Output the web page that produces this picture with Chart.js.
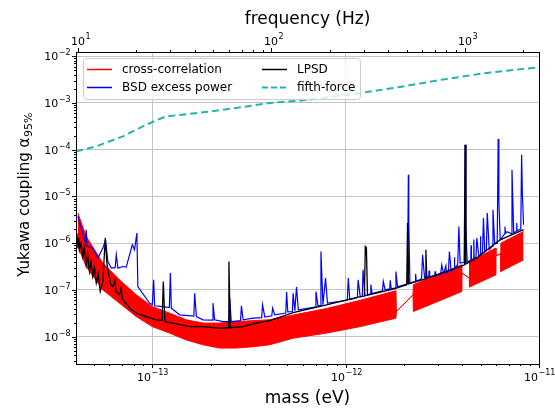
<!DOCTYPE html>
<html>
<head>
<meta charset="utf-8">
<script src="https://cdn.jsdelivr.net/npm/chart.js@4.4.0/dist/chart.umd.min.js"></script>
<style>
  html, body { margin: 0; padding: 0; background: #fff; }
  #wrap { width: 555px; height: 410px; }
</style>
</head>
<body>
<div id="wrap"><canvas id="chart" width="555" height="410"></canvas></div>
<script>
// cross-correlation: dense band, kept as upper / lower envelope (gaps collapse to a thin line)
const ccMass  = [4.12e-14, 4.55e-14, 5.55e-14, 6.77e-14, 8.26e-14, 1.0e-13, 1.23e-13, 1.50e-13, 1.83e-13, 2.23e-13, 2.72e-13, 3.32e-13, 4.05e-13, 5.35e-13, 7.97e-13, 1.19e-12, 1.82e-12, 1.83e-12, 2.23e-12, 2.24e-12, 3.99e-12, 4.0e-12, 4.36e-12, 4.37e-12, 5.98e-12, 5.99e-12, 6.34e-12, 6.35e-12, 8.32e-12];
const ccUpper = [4.41e-6, 1.39e-6, 3.75e-7, 1.64e-7, 7.85e-8, 4.41e-8, 3.18e-8, 2.29e-8, 1.95e-8, 1.95e-8, 2.1e-8, 2.2e-8, 2.3e-8, 2.9e-8, 4.0e-8, 6.0e-8, 9.6e-8, 3.45e-8, 7.85e-8, 1.29e-7, 3.45e-7, 2.29e-7, 1.79e-7, 4.06e-7, 7.85e-7, 5.37e-7, 5.93e-7, 1.0e-6, 1.78e-6];
const ccLower = [8.5e-7, 3.17e-7, 1.0e-7, 5.2e-8, 2.69e-8, 1.64e-8, 1.19e-8, 8.5e-9, 6.7e-9, 5.7e-9, 5.7e-9, 6.1e-9, 6.7e-9, 9.3e-9, 1.19e-8, 1.64e-8, 2.49e-8, 3.45e-8, 7.85e-8, 3.45e-8, 9.24e-8, 2.29e-7, 1.79e-7, 1.15e-7, 2.1e-7, 5.37e-7, 5.93e-7, 2.48e-7, 4.4e-7];

// BSD excess power
const bsdMass = [4.12e-14, 4.37e-14, 4.51e-14, 4.55e-14, 4.61e-14, 4.92e-14, 5.23e-14, 5.55e-14, 5.73e-14, 5.89e-14,
  6.13e-14, 6.43e-14, 6.51e-14, 6.64e-14, 7.05e-14, 7.33e-14, 7.88e-14, 8.09e-14, 8.32e-14, 8.42e-14,
  8.77e-14, 9.68e-14, 1.0e-13, 1.016e-13, 1.028e-13, 1.135e-13, 1.225e-13, 1.24e-13, 1.254e-13, 1.385e-13,
  1.64e-13, 1.656e-13, 1.69e-13, 1.83e-13, 2.04e-13, 2.06e-13, 2.1e-13, 2.32e-13, 2.49e-13, 2.515e-13,
  2.56e-13, 2.86e-13, 2.89e-13, 2.95e-13, 3.32e-13, 3.68e-13, 3.715e-13, 3.82e-13, 4.15e-13, 4.19e-13,
  4.3e-13, 4.9e-13, 4.95e-13, 5.02e-13, 5.3e-13, 5.35e-13, 5.46e-13, 5.57e-13, 5.69e-13, 6.95e-13,
  7.02e-13, 7.19e-13, 7.37e-13, 7.45e-13, 7.63e-13, 7.87e-13, 8.05e-13, 1.02e-12, 1.032e-12, 1.05e-12,
  1.15e-12, 1.16e-12, 1.19e-12, 1.22e-12, 1.23e-12, 1.26e-12,
  1.34e-12, 1.35e-12, 1.37e-12, 1.55e-12, 1.566e-12, 1.6e-12, 1.69e-12, 1.7e-12, 1.72e-12, 1.8e-12,
  1.82e-12, 1.855e-12, 2.09e-12, 2.11e-12, 2.12e-12, 2.15e-12, 2.29e-12, 2.3e-12, 2.32e-12, 2.47e-12,
  2.5e-12, 2.56e-12, 2.69e-12, 2.7e-12, 2.72e-12, 2.89e-12, 2.9e-12, 2.92e-12, 3.1e-12, 3.14e-12,
  3.21e-12, 3.3e-12, 3.32e-12, 3.4e-12, 3.44e-12, 3.51e-12, 3.64e-12, 3.65e-12, 3.67e-12, 3.8e-12,
  3.85e-12, 3.91e-12, 4.1e-12, 4.15e-12, 4.18e-12, 4.25e-12, 4.44e-12, 4.45e-12, 4.47e-12, 4.59e-12,
  4.6e-12, 4.62e-12, 4.72e-12, 4.77e-12, 4.88e-12, 4.97e-12, 4.98e-12, 5.0e-12, 5.1e-12, 5.16e-12,
  5.24e-12, 5.34e-12, 5.4e-12, 5.53e-12, 5.72e-12, 5.78e-12, 5.9e-12, 6.08e-12, 6.15e-12, 6.2e-12,
  6.3e-12, 6.65e-12, 6.67e-12, 6.7e-12, 6.83e-12, 7.18e-12, 7.25e-12, 7.4e-12, 7.65e-12, 7.67e-12,
  7.7e-12, 8.05e-12, 8.13e-12, 8.2e-12, 8.32e-12];
const bsdAlpha = [3.73e-6, 1.64e-6, 1.0e-6, 1.94e-6, 8.5e-7, 7.85e-7, 4.8e-7, 7.85e-7, 1.18e-6, 4.06e-7,
  2.93e-7, 3.0e-7, 5.65e-7, 2.93e-7, 3.17e-7, 3.08e-7, 9.25e-7, 7.22e-7, 1.64e-6, 1.18e-7,
  9.24e-8, 5.21e-8, 4.8e-8, 1.64e-7, 4.57e-8, 4.41e-8, 4.2e-8, 2.29e-7, 4.07e-8, 2.93e-8,
  2.75e-8, 8.5e-8, 2.69e-8, 2.29e-8, 2.25e-8, 5.21e-8, 2.29e-8, 2.1e-8, 2.1e-8, 6.67e-8,
  2.1e-8, 2.2e-8, 4.57e-8, 2.29e-8, 2.49e-8, 2.55e-8, 4.8e-8, 2.62e-8, 2.8e-8, 4.07e-8,
  2.93e-8, 3.2e-8, 8.97e-8, 3.4e-8, 3.45e-8, 8.5e-8, 3.57e-8, 1.15e-7, 3.75e-8, 4.3e-8,
  9.24e-8, 4.57e-8, 4.6e-8, 6.64e-7, 4.8e-8, 1.79e-7, 5.21e-8, 6.0e-8, 1.79e-7, 6.14e-8,
  6.9e-8, 1.64e-7, 7.12e-8, 7.3e-8, 2.69e-7, 7.48e-8,
  8.2e-8, 1.3e-7, 8.3e-8, 9.5e-8, 1.51e-7, 1.0e-7, 1.05e-7, 1.6e-7, 1.06e-7, 1.1e-7,
  2.48e-7, 1.16e-7, 1.35e-7, 2.92e-5, 3.0e-6, 1.42e-7, 1.5e-7, 2.2e-7, 1.52e-7, 1.75e-7,
  5.65e-7, 1.82e-7, 1.9e-7, 2.6e-7, 1.92e-7, 2.0e-7, 2.5e-7, 2.02e-7, 2.15e-7, 3.45e-7,
  2.21e-7, 3.3e-7, 2.3e-7, 2.45e-7, 6.64e-7, 2.57e-7, 2.8e-7, 5.0e-7, 2.85e-7, 3.5e-7,
  2.28e-6, 3.75e-7, 3.9e-7, 1.28e-4, 2.5e-6, 4.0e-7, 4.3e-7, 9.0e-7, 4.4e-7, 4.7e-7,
  1.2e-6, 4.8e-7, 5.0e-7, 1.29e-6, 5.37e-7, 5.6e-7, 1.4e-6, 5.8e-7, 6.0e-7, 3.45e-6,
  6.55e-7, 7.0e-7, 4.41e-6, 7.22e-7, 8.5e-7, 5.19e-6, 9.7e-7, 1.0e-6, 1.69e-4, 8.0e-6,
  1.18e-6, 1.6e-6, 2.28e-6, 1.62e-6, 1.75e-6, 1.6e-6, 3.73e-5, 1.67e-6, 1.8e-6, 2.7e-6,
  1.85e-6, 2.0e-6, 7.82e-5, 1.2e-5, 2.48e-6];

// LPSD
const lpsdMass = [4.07e-14, 4.13e-14, 4.17e-14, 4.2e-14, 4.28e-14, 4.37e-14, 4.45e-14, 4.55e-14, 4.63e-14, 4.73e-14,
  4.82e-14, 4.92e-14, 5.02e-14, 5.13e-14, 5.25e-14, 5.38e-14, 5.55e-14, 5.71e-14, 5.82e-14, 5.96e-14,
  6.1e-14, 6.25e-14, 6.4e-14, 6.5e-14, 6.77e-14, 6.9e-14, 7.0e-14, 7.18e-14, 7.63e-14, 8.26e-14,
  9.31e-14, 1.049e-13, 1.124e-13, 1.14e-13, 1.162e-13, 1.331e-13, 1.56e-13, 1.83e-13, 2.23e-13, 2.465e-13,
  2.49e-13, 2.53e-13, 2.95e-13, 3.46e-13, 4.05e-13, 5.35e-13, 7.97e-13, 1.19e-12, 1.25e-12, 1.264e-12,
  1.28e-12, 1.297e-12, 1.76e-12, 2.07e-12, 2.09e-12, 2.12e-12, 2.58e-12, 2.6e-12, 2.63e-12, 3.91e-12,
  4.12e-12, 4.15e-12, 4.19e-12, 4.77e-12, 5.82e-12, 6.3e-12, 8.32e-12];
const lpsdAlpha = [1.64e-6, 8.0e-7, 1.3e-6, 7.22e-7, 1.0e-6, 5.19e-7, 8.0e-7, 3.45e-7, 5.5e-7, 2.48e-7,
  4.0e-7, 1.94e-7, 3.0e-7, 1.4e-7, 2.2e-7, 9.24e-8, 1.51e-7, 1.29e-6, 3.75e-7, 2.1e-7,
  1.3e-7, 1.18e-7, 1.6e-7, 9.0e-8, 7.85e-8, 1.1e-7, 6.5e-8, 5.65e-8, 4.07e-8, 3.18e-8,
  2.69e-8, 2.29e-8, 2.25e-8, 1.51e-7, 2.1e-8, 1.88e-8, 1.64e-8, 1.64e-8, 1.52e-8, 1.55e-8,
  4.06e-7, 1.55e-8, 1.64e-8, 1.95e-8, 2.21e-8, 3.28e-8, 4.8e-8, 7.22e-8, 7.4e-8, 8.5e-7,
  8.0e-7, 7.7e-8, 1.04e-7, 1.29e-7, 2.69e-6, 1.35e-7, 1.73e-7, 7.22e-7, 1.79e-7, 3.17e-7,
  3.45e-7, 1.28e-4, 3.6e-7, 4.8e-7, 9.25e-7, 1.18e-6, 1.94e-6];

// fifth-force
const ffMass  = [4.04e-14, 5.13e-14, 7.05e-14, 8.94e-14, 1.09e-13, 1.18e-13, 1.83e-13, 2.72e-13, 4.05e-13, 5.8e-13, 1.05e-12, 1.91e-12, 3.08e-12, 5.16e-12, 9.95e-12];
const ffAlpha = [9.2e-5, 1.18e-4, 1.93e-4, 3.16e-4, 4.54e-4, 5.16e-4, 6.3e-4, 7.8e-4, 1.0e-3, 1.12e-3, 1.5e-3, 2.2e-3, 3.1e-3, 4.3e-3, 5.8e-3];

// axis ranges
const massRange = [4.03e-14, 1e-11];
const freqRange = [9.75, 2418];
const alphaRange = [2.6e-9, 1.23e-2];

const legendItems = [
  { label: 'cross-correlation', color: '#ff0000', dash: [], width: 1.5 },
  { label: 'LPSD', color: '#000000', dash: [], width: 1.5 },
  { label: 'BSD excess power', color: '#0000ff', dash: [], width: 1.5 },
  { label: 'fifth-force', color: '#22b5aa', dash: [6, 3], width: 2 }
];

const FONT = '"DejaVu Sans", "Liberation Sans", sans-serif';

function pts(xs, ys) {
  return xs.map((x, i) => ({ x: x, y: ys[i] }));
}

// decade + 2..9 minor ticks
function logTicks(scale) {
  const ticks = [];
  const lo = Math.floor(Math.log10(scale.min));
  const hi = Math.ceil(Math.log10(scale.max));
  for (let e = lo; e <= hi; e++) {
    for (let k = 1; k < 10; k++) {
      const v = parseFloat((k * Math.pow(10, e)).toPrecision(6));
      if (v >= scale.min * 0.9999 && v <= scale.max * 1.0001) ticks.push({ value: v, major: k === 1 });
    }
  }
  scale.ticks = ticks;
}

const gridColor = ctx => (ctx.tick && ctx.tick.major) ? '#c4c4c4' : 'rgba(0,0,0,0)';

// "10" with a raised exponent, like matplotlib's mathtext labels
function drawPow(ctx, v, x, y, align) {
  const e = Math.round(Math.log10(v));
  const exp = String(e).replace('-', '\u2212');
  ctx.font = '11px ' + FONT;
  const w1 = ctx.measureText('10').width;
  ctx.font = '8px ' + FONT;
  const w2 = ctx.measureText(exp).width;
  let x0 = align === 'right' ? x - w1 - w2 : x - (w1 + w2) / 2;
  ctx.textAlign = 'left';
  ctx.textBaseline = 'middle';
  ctx.font = '11px ' + FONT;
  ctx.fillText('10', x0, y);
  ctx.font = '8px ' + FONT;
  ctx.fillText(exp, x0 + w1 + 0.5, y - 5);
}

// ticks, labels, frame, legend and axis titles
const decorPlugin = {
  id: 'decor',
  afterDraw(chart) {
    const ctx = chart.ctx;
    const a = chart.chartArea;
    ctx.save();

    ctx.strokeStyle = '#000';
    ctx.fillStyle = '#000';
    ctx.lineWidth = 1;
    ['x', 'x2', 'y'].forEach(id => {
      const s = chart.scales[id];
      s.ticks.forEach(t => {
        const p = Math.round(s.getPixelForValue(t.value)) + 0.5;
        const len = t.major ? 4 : 2;
        ctx.beginPath();
        if (id === 'x') { ctx.moveTo(p, a.bottom); ctx.lineTo(p, a.bottom + len); }
        else if (id === 'x2') { ctx.moveTo(p, a.top); ctx.lineTo(p, a.top - len); }
        else { ctx.moveTo(a.left, p); ctx.lineTo(a.left - len, p); }
        ctx.stroke();
        if (t.major) {
          if (id === 'x') drawPow(ctx, t.value, p, a.bottom + 14, 'center');
          else if (id === 'x2') drawPow(ctx, t.value, p + 2, a.top - 10, 'center');
          else drawPow(ctx, t.value, a.left - 6, p + 1, 'right');
        }
      });
    });

    // frame
    ctx.strokeRect(Math.round(a.left) + 0.5, Math.round(a.top) + 0.5,
      Math.round(a.right - a.left), Math.round(a.bottom - a.top));

    // legend
    const bx = 83, by = 58, bw = 277, bh = 41;
    ctx.fillStyle = 'rgba(255,255,255,0.8)';
    ctx.strokeStyle = '#cccccc';
    ctx.beginPath();
    ctx.roundRect(bx + 0.5, by + 0.5, bw, bh, 3);
    ctx.fill();
    ctx.stroke();
    ctx.font = '12px ' + FONT;
    ctx.textBaseline = 'middle';
    ctx.textAlign = 'left';
    legendItems.forEach((it, i) => {
      const col = i % 2, row = Math.floor(i / 2);
      const lx = col === 0 ? 87 : 262;
      const ly = row === 0 ? 69 : 87;
      ctx.strokeStyle = it.color;
      ctx.lineWidth = it.width;
      ctx.setLineDash(it.dash);
      ctx.beginPath();
      ctx.moveTo(lx, ly + 0.5);
      ctx.lineTo(lx + 25, ly + 0.5);
      ctx.stroke();
      ctx.setLineDash([]);
      ctx.fillStyle = '#000';
      ctx.fillText(it.label, lx + 35, ly + 1);
    });

    // axis titles
    const cx = (a.left + a.right) / 2;
    ctx.fillStyle = '#000';
    ctx.textAlign = 'center';
    ctx.textBaseline = 'middle';
    ctx.font = '17px ' + FONT;
    ctx.fillText('frequency (Hz)', cx, 20);
    ctx.fillText('mass (eV)', cx, 399);

    // y title with subscript
    const main = 'Yukawa coupling α';
    const sub = '95%';
    ctx.translate(25, 195);
    ctx.rotate(-Math.PI / 2);
    ctx.font = '15px ' + FONT;
    const w1 = ctx.measureText(main).width;
    ctx.font = '11px ' + FONT;
    const w2 = ctx.measureText(sub).width;
    const x0 = -(w1 + w2) / 2;
    ctx.textAlign = 'left';
    ctx.font = '15px ' + FONT;
    ctx.fillText(main, x0, 0);
    ctx.font = '11px ' + FONT;
    ctx.fillText(sub, x0 + w1 + 0.5, 4);
    ctx.restore();
  }
};

new Chart(document.getElementById('chart'), {
  type: 'line',
  data: {
    datasets: [
      {
        label: 'cross-correlation',
        data: pts(ccMass, ccUpper),
        borderColor: '#ff0000',
        borderWidth: 1,
        order: 4
      },
      {
        label: 'cross-correlation (lower)',
        data: pts(ccMass, ccLower),
        borderColor: '#ff0000',
        borderWidth: 1,
        backgroundColor: '#ff0000',
        fill: '-1',
        order: 4
      },
      {
        label: 'BSD excess power',
        data: pts(bsdMass, bsdAlpha),
        borderColor: '#0000ff',
        borderWidth: 1.2,
        order: 3
      },
      {
        label: 'LPSD',
        data: pts(lpsdMass, lpsdAlpha),
        borderColor: '#000000',
        borderWidth: 1.3,
        order: 2
      },
      {
        label: 'fifth-force',
        data: pts(ffMass, ffAlpha),
        borderColor: '#22b5aa',
        borderWidth: 2,
        borderDash: [7, 4],
        order: 1
      }
    ]
  },
  options: {
    responsive: false,
    animation: false,
    devicePixelRatio: 1,
    layout: { padding: { left: 0, right: 16, top: 0, bottom: 0 } },
    elements: { point: { radius: 0 }, line: { tension: 0 } },
    plugins: { legend: { display: false }, tooltip: { enabled: false } },
    scales: {
      x: {
        type: 'logarithmic',
        position: 'bottom',
        min: massRange[0],
        max: massRange[1],
        afterBuildTicks: logTicks,
        afterFit: s => { s.height = 46; },
        grid: { color: gridColor, lineWidth: 1, drawTicks: false },
        border: { display: false },
        ticks: { display: false, autoSkip: false }
      },
      x2: {
        type: 'logarithmic',
        position: 'top',
        min: freqRange[0],
        max: freqRange[1],
        afterBuildTicks: logTicks,
        afterFit: s => { s.height = 52; },
        grid: { drawOnChartArea: false, drawTicks: false },
        border: { display: false },
        ticks: { display: false, autoSkip: false }
      },
      y: {
        type: 'logarithmic',
        position: 'left',
        min: alphaRange[0],
        max: alphaRange[1],
        afterBuildTicks: logTicks,
        afterFit: s => { s.width = 76; },
        grid: { color: gridColor, lineWidth: 1, drawTicks: false },
        border: { display: false },
        ticks: { display: false, autoSkip: false }
      }
    }
  },
  plugins: [decorPlugin]
});
</script>
</body>
</html>
